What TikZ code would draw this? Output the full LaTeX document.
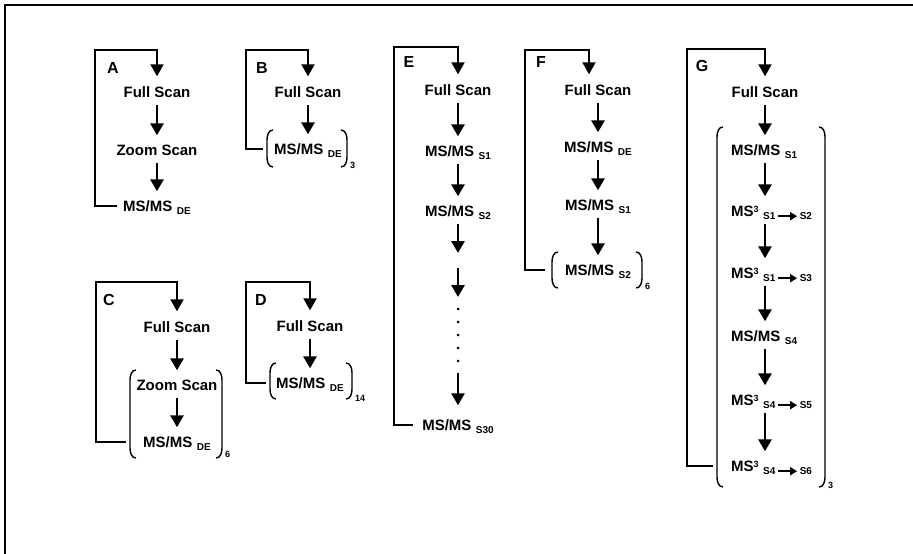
\documentclass[tikz,border=0pt]{standalone}
\usepackage{fontspec}
\setmainfont{Liberation Sans}
\usetikzlibrary{arrows.meta}
\newcommand\subs[1]{\hspace{4.5pt}\raisebox{-3pt}{\fontsize{10}{10}\selectfont #1}}
\newcommand\supr[1]{\raisebox{4.5pt}{\fontsize{9}{9}\selectfont #1}}
\newcommand\sar{\tikz[baseline=0pt]\draw[line width=2pt,-{Triangle[length=7pt,width=8pt]}] (0pt,3.3pt) -- (19pt,3.3pt);}
\newcommand\brk[5]{%
 \coordinate (#1nw) at (#2,#3); \coordinate (#1ne) at (#4,#3);
 \coordinate (#1sw) at (#2,#5); \coordinate (#1se) at (#4,#5);
 \draw[par] ([xshift=6pt]#1nw) to[out=180,in=90] ([yshift=-10pt]#1nw) -- ([yshift=10pt]#1sw) to[out=-90,in=180] ([xshift=6pt]#1sw);
 \draw[par] ([xshift=-6pt]#1ne) to[out=0,in=90] ([yshift=-10pt]#1ne) -- ([yshift=10pt]#1se) to[out=-90,in=0] ([xshift=-6pt]#1se);}
\tikzset{
 txt/.style={font=\fontsize{15}{15}\selectfont\bfseries, inner sep=0pt, text height=11pt, text depth=0pt},
 lab/.style={font=\fontsize{16}{16}\selectfont\bfseries, inner sep=0pt},
 cnt/.style={font=\fontsize{9}{9}\selectfont\bfseries, inner sep=0pt, anchor=base west},
 arr/.style={line width=2.8pt, -{Triangle[length=12pt,width=13pt]}, shorten <=7pt, shorten >=9pt},
 arrf/.style={line width=2.8pt, -{Triangle[length=12pt,width=13pt]}},
 loopl/.style={line width=2pt, -{Triangle[length=12pt,width=13pt]}, shorten >=10pt},
 par/.style={line width=1.4pt},
 frame/.style={line width=1.2pt},
 dotn/.style={circle, fill, inner sep=0pt, minimum size=3pt}
}
\begin{document}
\begin{tikzpicture}[x=1pt,y=-1pt]
\useasboundingbox (0,0) rectangle (913,554);
\coordinate (f1) at (913,5); \coordinate (f2) at (5,5); \coordinate (f3) at (5,554);
\draw[frame] (f1) -- (f2) -- (f3);

% ---------- A
\node[lab] (lA) at (113,68) {A};
\node[txt] (fsA) at (157,92) {Full Scan};
\node[txt] (zsA) at (157,150) {Zoom Scan};
\node[txt] (msA) at (157,206) {MS/MS\subs{DE}};
\coordinate (cA) at (95,50);
\draw[arr] (fsA) -- (zsA);
\draw[arr] (zsA) -- (msA);
\draw[loopl] ([xshift=-6pt]msA.west) -| (cA) -| (fsA.north);

% ---------- B
\node[lab] (lB) at (262,68) {B};
\node[txt] (fsB) at (308,92) {Full Scan};
\node[txt] (msB) at (308,149) {MS/MS\subs{DE}};
\brk{bB}{267}{130}{347}{167}
\node[cnt] (nB) at (350,168) {3};
\coordinate (cB) at (246,50); \coordinate (sB) at (263,149);
\draw[arr] (fsB) -- (msB);
\draw[loopl] (sB) -| (cB) -| (fsB.north);

% ---------- C
\node[lab] (lC) at (109,300) {C};
\node[txt] (fsC) at (177,327) {Full Scan};
\node[txt] (zsC) at (177,385) {Zoom Scan};
\node[txt] (msC) at (177,442) {MS/MS\subs{DE}};
\brk{bC}{130}{370}{222}{458}
\node[cnt] (nC) at (225,457) {6};
\coordinate (cC) at (96,282); \coordinate (sC) at (126,442);
\draw[arr] (fsC) -- (zsC);
\draw[arr] (zsC) -- (msC);
\draw[loopl] (sC) -| (cC) -| (fsC.north);

% ---------- D
\node[lab] (lD) at (261,300) {D};
\node[txt] (fsD) at (310,326) {Full Scan};
\node[txt] (msD) at (310,383) {MS/MS\subs{DE}};
\brk{bD}{270}{363}{352}{399}
\node[cnt] (nD) at (355,401) {14};
\coordinate (cD) at (246,282); \coordinate (sD) at (266,383);
\draw[arr] (fsD) -- (msD);
\draw[loopl] (sD) -| (cD) -| (fsD.north);

% ---------- E
\node[lab] (lE) at (409,62) {E};
\node[txt] (fsE) at (458,90) {Full Scan};
\node[txt] (s1E) at (458,151) {MS/MS\subs{S1}};
\node[txt] (s2E) at (458,211) {MS/MS\subs{S2}};
\node[txt] (s30E) at (458,425) {MS/MS\subs{S30}};
\coordinate (e1) at (458,253);
\coordinate (e2) at (458,268); \coordinate (e3) at (458,297);
\coordinate (e4) at (458,373);
\node[dotn] (d1) at (458,309) {};
\node[dotn] (d2) at (458,322) {};
\node[dotn] (d3) at (458,335) {};
\node[dotn] (d4) at (458,348) {};
\node[dotn] (d5) at (458,361) {};
\coordinate (cE) at (394,47); \coordinate (sE) at (413,425);
\draw[arr] (fsE) -- (s1E);
\draw[arr] (s1E) -- (s2E);
\draw[arrf, shorten <=7pt] (s2E) -- (e1);
\draw[arrf] (e2) -- (e3);
\draw[arrf, shorten >=14pt] (e4) -- (s30E);
\draw[loopl] (sE) -| (cE) -| (fsE.north);

% ---------- F
\node[lab] (lF) at (541,62) {F};
\node[txt] (fsF) at (598,90) {Full Scan};
\node[txt] (deF) at (598,147) {MS/MS\subs{DE}};
\node[txt] (s1F) at (598,205) {MS/MS\subs{S1}};
\node[txt] (s2F) at (598,270) {MS/MS\subs{S2}};
\brk{bF}{552}{252}{642}{288}
\node[cnt] (nF) at (645,289) {6};
\coordinate (cF) at (525,50); \coordinate (sF) at (545,270);
\draw[arr] (fsF) -- (deF);
\draw[arr] (deF) -- (s1F);
\draw[arr] (s1F) -- (s2F);
\draw[loopl] (sF) -| (cF) -| ([xshift=-9pt]fsF.north);

% ---------- G
\node[lab] (lG) at (702,66) {G};
\node[txt] (fsG) at (765,92) {Full Scan};
\node[txt, anchor=west] (g1) at (731,150) {MS/MS\subs{S1}};
\node[txt, anchor=west] (g2) at (731,211) {MS\supr{3}\subs{S1\,\sar\,S2}};
\node[txt, anchor=west] (g3) at (731,273) {MS\supr{3}\subs{S1\,\sar\,S3}};
\node[txt, anchor=west] (g4) at (731,336) {MS/MS\subs{S4}};
\node[txt, anchor=west] (g5) at (731,400) {MS\supr{3}\subs{S4\,\sar\,S5}};
\node[txt, anchor=west] (g6) at (731,466) {MS\supr{3}\subs{S4\,\sar\,S6}};
\brk{bG}{717}{127}{825}{487}
\node[cnt] (nG) at (828,488) {3};
\coordinate (cG) at (687,49); \coordinate (sG) at (713,466);
\draw[arr] (fsG) -- (g1.north -| fsG);
\draw[arr] (g1.south -| fsG) -- (g2.north -| fsG);
\draw[arr] (g2.south -| fsG) -- (g3.north -| fsG);
\draw[arr] (g3.south -| fsG) -- (g4.north -| fsG);
\draw[arr] (g4.south -| fsG) -- (g5.north -| fsG);
\draw[arr] (g5.south -| fsG) -- (g6.north -| fsG);
\draw[loopl] (sG) -| (cG) -| (fsG.north);
\end{tikzpicture}
\end{document}
